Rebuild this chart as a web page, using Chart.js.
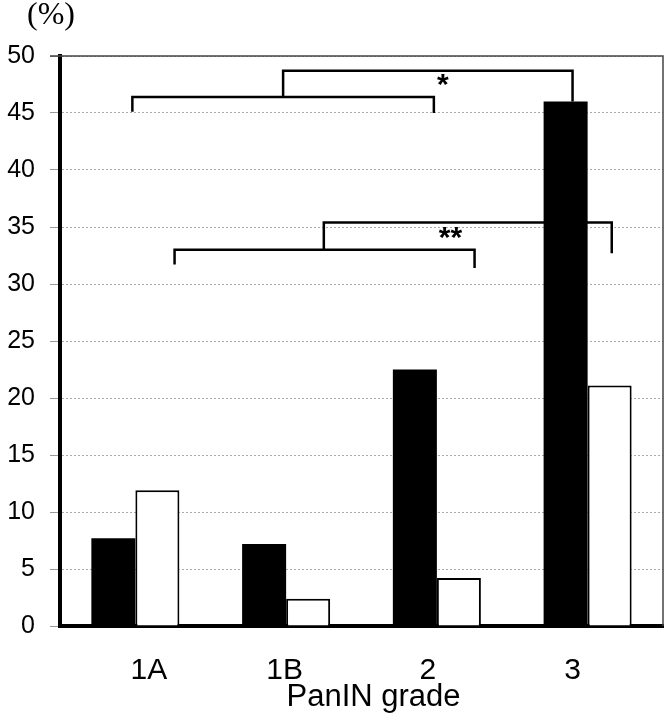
<!DOCTYPE html>
<html>
<head>
<meta charset="utf-8">
<script src="https://cdn.jsdelivr.net/npm/chart.js@4.4.1/dist/chart.umd.min.js"></script>
<style>
  body { margin: 0; background: #fff; }
  canvas { display: block; }
</style>
</head>
<body>
<canvas id="paninChart" width="670" height="720"></canvas>
<script>
const grades = ['1A', '1B', '2', '3'];
const blackValues = [7.7, 7.2, 22.5, 46.0];
const whiteValues = [11.9, 2.4, 4.2, 21.1];
const yMax = 50;
const yStep = 5;
const xTitle = 'PanIN grade';
const yUnit = '(%)';

const FONT = '"Liberation Sans", Arial, sans-serif';

// significance brackets, in (category index, %) coordinates
const brackets = [
    [[-0.02, 45.1], [-0.02, 46.4], [1.98, 46.4], [1.98, 45.0]],
    [[0.98, 46.4], [0.98, 48.7], [2.90, 48.7], [2.90, 46.0]],
    [[0.26, 31.7], [0.26, 33.0], [2.25, 33.0], [2.25, 31.4]],
    [[1.25, 33.0], [1.25, 35.4], [3.16, 35.4], [3.16, 32.7]]
];
const stars = [
    { text: '*', x: 2.04, y: 48.0 },
    { text: '**', x: 2.09, y: 34.6 }
];
// the grade names are not quite centred under their bars in the original
const labelPos = [0.09, 0.99, 1.94, 2.90];

const extras = {
    id: 'extras',
    afterDatasetsDraw(chart) {
        const { ctx, chartArea: a, scales: { x, y } } = chart;
        ctx.save();

        // solid top line and thin right frame
        ctx.strokeStyle = '#444';
        ctx.lineWidth = 1.5;
        ctx.beginPath();
        ctx.moveTo(a.left - 10, a.top);
        ctx.lineTo(a.right, a.top);
        ctx.lineTo(a.right, a.bottom);
        ctx.stroke();

        // brackets
        ctx.strokeStyle = '#000';
        ctx.lineWidth = 2.5;
        brackets.forEach(path => {
            ctx.beginPath();
            path.forEach(([cx, v], i) => {
                const px = x.getPixelForValue(cx);
                const py = y.getPixelForValue(v);
                if (i === 0) ctx.moveTo(px, py); else ctx.lineTo(px, py);
            });
            ctx.stroke();
        });

        ctx.fillStyle = '#000';
        ctx.font = 'bold 30px ' + FONT;
        ctx.textAlign = 'center';
        ctx.textBaseline = 'alphabetic';
        stars.forEach(s => {
            ctx.fillText(s.text, x.getPixelForValue(s.x), y.getPixelForValue(s.y) + 15);
        });
        ctx.restore();
    },
    afterDraw(chart) {
        const { ctx, chartArea: a, scales: { x } } = chart;
        ctx.save();
        ctx.fillStyle = '#000';
        ctx.textAlign = 'center';
        ctx.textBaseline = 'alphabetic';
        ctx.font = '30px ' + FONT;
        grades.forEach((g, i) => {
            ctx.fillText(g, x.getPixelForValue(labelPos[i]), a.bottom + 53);
        });
        ctx.font = '31px ' + FONT;
        ctx.fillText(xTitle, (a.left + a.right) / 2 + 12, a.bottom + 80);
        ctx.font = '32px "Liberation Serif", "Times New Roman", serif';
        ctx.fillText(yUnit, a.left - 9, 24);
        ctx.restore();
    }
};

new Chart(document.getElementById('paninChart'), {
    type: 'bar',
    data: {
        labels: grades,
        datasets: [
            {
                data: blackValues,
                backgroundColor: '#000',
                borderWidth: 0
            },
            {
                data: whiteValues,
                backgroundColor: '#fff',
                borderColor: '#000',
                borderWidth: 2
            }
        ]
    },
    options: {
        responsive: false,
        animation: false,
        layout: { padding: { top: 56, right: 7, left: 0, bottom: 0 } },
        datasets: {
            bar: { categoryPercentage: 0.584, barPercentage: 1.0 }
        },
        plugins: {
            legend: { display: false },
            tooltip: { enabled: false }
        },
        scales: {
            x: {
                afterFit: s => { s.height = 94; },
                grid: { display: false, drawTicks: false },
                border: { display: true, color: '#000', width: 4 },
                ticks: { display: false }
            },
            y: {
                min: 0,
                max: yMax,
                afterFit: s => { s.width = 60; },
                grid: {
                    color: '#aaa',
                    tickColor: '#999',
                    tickLength: 10,
                    lineWidth: 1
                },
                border: { display: true, color: '#000', width: 4, dash: [2, 2] },
                ticks: {
                    stepSize: yStep,
                    padding: 15,
                    color: '#000',
                    font: { family: FONT, size: 25 }
                }
            }
        }
    },
    plugins: [extras]
});
</script>
</body>
</html>
